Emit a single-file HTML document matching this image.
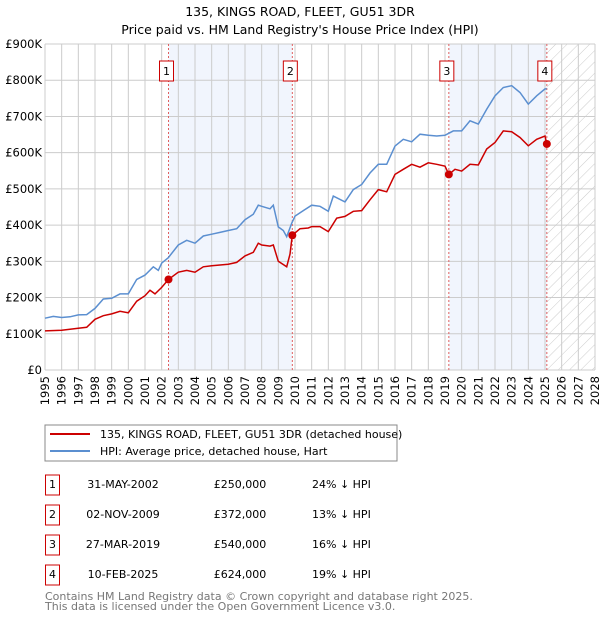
<!DOCTYPE html>
<html><head><meta charset="utf-8"><style>
body{margin:0;background:#fff;font-family:"DejaVu Sans","Liberation Sans",sans-serif;}
svg text{font-family:"DejaVu Sans","Liberation Sans",sans-serif;}
</style></head><body>
<svg id="c" width="600" height="620" viewBox="0 0 600 620" xmlns="http://www.w3.org/2000/svg">
<defs><pattern id="hatch" width="8" height="8" patternUnits="userSpaceOnUse" patternTransform="rotate(45)"><line x1="0" y1="0" x2="0" y2="8" stroke="#ccc" stroke-width="1"/></pattern></defs>
<text x="300" y="16" text-anchor="middle" font-size="12.5">135, KINGS ROAD, FLEET, GU51 3DR</text>
<text x="300" y="34" text-anchor="middle" font-size="12.5">Price paid vs. HM Land Registry's House Price Index (HPI)</text>
<g id="plot"></g>
<rect x="45" y="425" width="352" height="36" fill="#fff" stroke="#888"/>
<line x1="50" y1="434" x2="90" y2="434" stroke="#cc0000" stroke-width="2"/>
<text x="100" y="438" font-size="11">135, KINGS ROAD, FLEET, GU51 3DR (detached house)</text>
<line x1="50" y1="451" x2="90" y2="451" stroke="#5b8fd0" stroke-width="2"/>
<text x="100" y="455" font-size="11">HPI: Average price, detached house, Hart</text>
<g id="table"></g>
<text x="45" y="600" font-size="11" fill="#777">Contains HM Land Registry data © Crown copyright and database right 2025.</text>
<text x="45" y="610" font-size="11" fill="#777">This data is licensed under the Open Government Licence v3.0.</text>
</svg>
<script>
const hpiYears=[1995,1995.5,1996,1996.5,1997,1997.5,1998,1998.5,1999,1999.5,2000,2000.5,2001,2001.5,2001.8,2002,2002.4,2003,2003.5,2004,2004.5,2005,2005.5,2006,2006.5,2007,2007.5,2007.8,2008,2008.5,2008.7,2009,2009.3,2009.5,2009.8,2010,2010.5,2011,2011.5,2012,2012.3,2013,2013.5,2014,2014.5,2015,2015.5,2016,2016.5,2017,2017.5,2018,2018.5,2019,2019.5,2020,2020.5,2021,2021.5,2022,2022.5,2023,2023.5,2024,2024.5,2025,2025.1];
const hpiValues=[143,148,145,147,152,153,170,196,198,210,210,250,262,285,275,295,310,345,358,350,370,375,380,385,390,415,430,455,452,445,455,395,385,368,405,425,440,455,452,438,480,464,498,512,544,568,568,618,637,630,651,648,646,648,660,660,688,679,720,757,780,785,766,734,757,776,776];
const ppYears=[1995,1996,1997,1997.5,1998,1998.5,1999,1999.5,2000,2000.5,2001,2001.3,2001.6,2002,2002.41,2003,2003.5,2004,2004.5,2005,2005.5,2006,2006.5,2007,2007.5,2007.8,2008,2008.5,2008.7,2009,2009.5,2009.7,2009.84,2010.3,2010.8,2011,2011.5,2012,2012.5,2013,2013.5,2014,2014.5,2015,2015.5,2016,2016.5,2017,2017.5,2018,2018.5,2019,2019.23,2019.6,2020,2020.5,2021,2021.5,2022,2022.5,2023,2023.5,2024,2024.5,2025,2025.11];
const ppValues=[108,110,115,118,140,150,155,162,158,190,205,220,210,228,250,270,275,270,285,288,290,292,297,315,325,350,345,342,345,300,285,320,372,390,392,396,396,382,419,424,438,440,470,498,492,540,554,568,560,572,568,563,540,554,549,568,566,610,628,660,658,642,619,637,646,624];
const saleLabels=["1","2","3","4"];
const saleYears=[2002.41,2009.84,2019.23,2025.11];
const saleValues=[250,372,540,624];
const saleDates=["31-MAY-2002","02-NOV-2009","27-MAR-2019","10-FEB-2025"];
const salePrices=["£250,000","£372,000","£540,000","£624,000"];
const saleDiffs=["24% ↓ HPI","13% ↓ HPI","16% ↓ HPI","19% ↓ HPI"];
const yTicks=[0,100,200,300,400,500,600,700,800,900];
const yTickLabels=["£0","£100K","£200K","£300K","£400K","£500K","£600K","£700K","£800K","£900K"];
const xMin=1995,xMax=2028,yMax=900;
const L=45,R=595,T=44,B=370;
const X=v=>L+(v-xMin)/(xMax-xMin)*(R-L);
const Y=v=>B-v/yMax*(B-T);
const NS="http://www.w3.org/2000/svg";
const g=document.getElementById('plot');
function mk(t,a,p){const e=document.createElementNS(NS,t);for(const k in a)e.setAttribute(k,a[k]);(p||g).appendChild(e);return e;}
let e;
e=mk('rect',{x:X(saleYears[0]),y:T,width:X(saleYears[1])-X(saleYears[0]),height:B-T,fill:'#eef3fc',opacity:0.8});


e=mk('rect',{x:X(saleYears[2]),y:T,width:X(saleYears[3])-X(saleYears[2]),height:B-T,fill:'#eef3fc',opacity:0.8});


e=mk('rect',{x:X(saleYears[3]),y:T,width:R-X(saleYears[3]),height:B-T,fill:'url(#hatch)'});


for(let yr=xMin;yr<=xMax;yr++){
 e=mk('line',{x1:X(yr),x2:X(yr),y1:T,y2:B,stroke:'#ccc','stroke-width':1});
 
 
 e=mk('text',{x:0,y:0,'font-size':11.5,'text-anchor':'end',transform:`translate(${X(yr)+4},${B+6}) rotate(-90)`});
 e.textContent=yr;
 
 
}
yTicks.forEach((v,i)=>{
 e=mk('line',{x1:L,x2:R,y1:Y(v),y2:Y(v),stroke:'#ccc','stroke-width':1});
 
 
 e=mk('text',{x:L-3,y:Y(v)+4,'font-size':11.5,'text-anchor':'end'});
 e.textContent=yTickLabels[i];
 
 
});
saleYears.forEach((yr,i)=>{
 e=mk('line',{x1:X(yr),x2:X(yr),y1:T,y2:B,stroke:'#e06060','stroke-width':1,'stroke-dasharray':'2,2'});
 
 
});
function path(xs,ys){return xs.map((x,i)=>(i?'L':'M')+X(x).toFixed(1)+','+Y(ys[i]).toFixed(1)).join('');}
e=mk('path',{d:path(hpiYears,hpiValues),fill:'none',stroke:'#5b8fd0','stroke-width':1.5});


e=mk('path',{d:path(ppYears,ppValues),fill:'none',stroke:'#cc0000','stroke-width':1.5});


saleYears.forEach((yr,i)=>{
 e=mk('circle',{cx:X(yr),cy:Y(saleValues[i]),r:4,fill:'#cc0000'});
 
 
 e=mk('rect',{x:X(yr)-9,y:61,width:14,height:20,fill:'#fff',stroke:'#cc0000'});
 
 
 e=mk('text',{x:X(yr)-2,y:75,'font-size':11,'text-anchor':'middle'});
 e.textContent=saleLabels[i];
 
 
});
const tb=document.getElementById('table');
saleLabels.forEach((s,i)=>{
 const by=475+i*30, ty=488+i*30;
 e=mk('rect',{x:45.5,y:by,width:14,height:20,fill:'#fff',stroke:'#cc0000'},tb);
 
 
 e=mk('text',{x:52.5,y:ty,'font-size':11,'text-anchor':'middle'},tb);e.textContent=s;
 
 
 e=mk('text',{x:123,y:ty,'font-size':11,'text-anchor':'middle'},tb);e.textContent=saleDates[i];
 
 
 e=mk('text',{x:240,y:ty,'font-size':11,'text-anchor':'middle'},tb);e.textContent=salePrices[i];
 
 
 e=mk('text',{x:312,y:ty,'font-size':11},tb);e.textContent=saleDiffs[i];
 
 
});
</script>
</body></html>
